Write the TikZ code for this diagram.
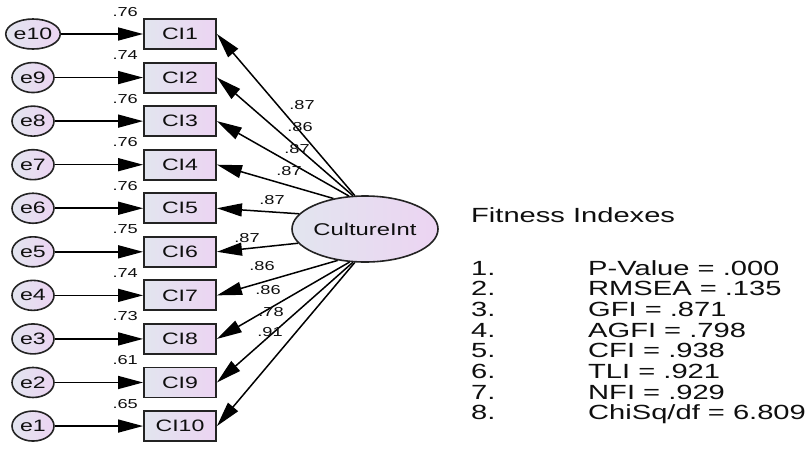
\documentclass[tikz,border=0pt]{standalone}
\usepackage{fontspec}
\setmainfont[FakeStretch=1.4]{Liberation Sans}
\newfontfamily\fitfont[FakeStretch=1.42]{Liberation Sans}
\usetikzlibrary{shapes.geometric,arrows.meta}
\definecolor{gl}{RGB}{226,229,239}
\definecolor{gr}{RGB}{236,212,242}
\definecolor{bord}{RGB}{35,35,35}
\definecolor{txt}{RGB}{15,15,15}
\begin{document}
\begin{tikzpicture}[x=1pt,y=-1pt,
 obs/.style={draw=bord, line width=1.9pt, left color=gl, right color=gr, minimum width=72pt, minimum height=30pt, inner sep=0pt, text=txt, font=\fontsize{16.5}{16}\selectfont},
 err/.style={ellipse, draw=bord, line width=1.6pt, left color=gl, right color=gr, minimum width=42pt, minimum height=30pt, inner sep=0pt, text=txt, font=\fontsize{16.5}{16}\selectfont},
 lat/.style={ellipse, draw=bord, line width=1.6pt, left color=gl, right color=gr, minimum width=146pt, minimum height=66pt, inner sep=0pt, text=txt, font=\fontsize{17}{17}\selectfont},
 arr/.style={-{Triangle[length=25pt,width=13pt]}, line width=1.5pt, draw=black},
 coef/.style={font=\fontsize{13}{13}\selectfont, inner sep=0pt, text=txt},
 fit/.style={font=\fitfont\fontsize{20.5}{21}\selectfont, anchor=base west, inner sep=0pt, text=txt}
]
\fill[white] (0,0) rectangle (808,459);
\useasboundingbox (0,0) rectangle (808,459);

\node[lat] (ci) at (365,229) {CultureInt};

\foreach \k/\lab/\sq in {1/e10/.76, 2/e9/.74, 3/e8/.76, 4/e7/.76, 5/e6/.76, 6/e5/.75, 7/e4/.74, 8/e3/.73, 9/e2/.61, 10/e1/.65} {
  \pgfmathsetmacro\yy{34+43.56*(\k-1)}
  \node[obs] (c\k) at (180,\yy) {CI\k};
  \node[err] (\lab) at (33,\yy) {\lab};
  \draw[arr] (\lab) -- (c\k);
  \node[coef, anchor=base east] (s\k) at ([xshift=-5pt,yshift=2pt]c\k.north west) {\sq};
}

\foreach \k/\ang in {1/107, 2/110, 3/116, 4/136, 5/167.5, 6/192.4, 7/229, 8/245, 9/250, 10/253} {
  \draw[arr] (ci.\ang) -- (c\k.east);
}

\node[coef] (l1) at (302,105) {.87};
\node[coef] (l2) at (300,127) {.86};
\node[coef] (l3) at (297,149) {.87};
\node[coef] (l4) at (289,171) {.87};
\node[coef] (l5) at (272,200) {.87};
\node[coef] (l6) at (247,238) {.87};
\node[coef] (l7) at (262,266) {.86};
\node[coef] (l8) at (268,290) {.86};
\node[coef] (l9) at (271,312) {.78};
\node[coef] (l10) at (270,332) {.91};

\node[fit] (ft) at (471,222) {Fitness Indexes};
\foreach \k/\t in {1/{P-Value = .000}, 2/{RMSEA = .135}, 3/{GFI = .871}, 4/{AGFI = .798}, 5/{CFI = .938}, 6/{TLI = .921}, 7/{NFI = .929}, 8/{ChiSq/df = 6.809}} {
  \pgfmathsetmacro\yb{275+20.7*(\k-1)}
  \node[fit] (n\k) at (471,\yb) {\k.};
  \node[fit] (v\k) at (588,\yb) {\t};
}
\end{tikzpicture}
\end{document}
